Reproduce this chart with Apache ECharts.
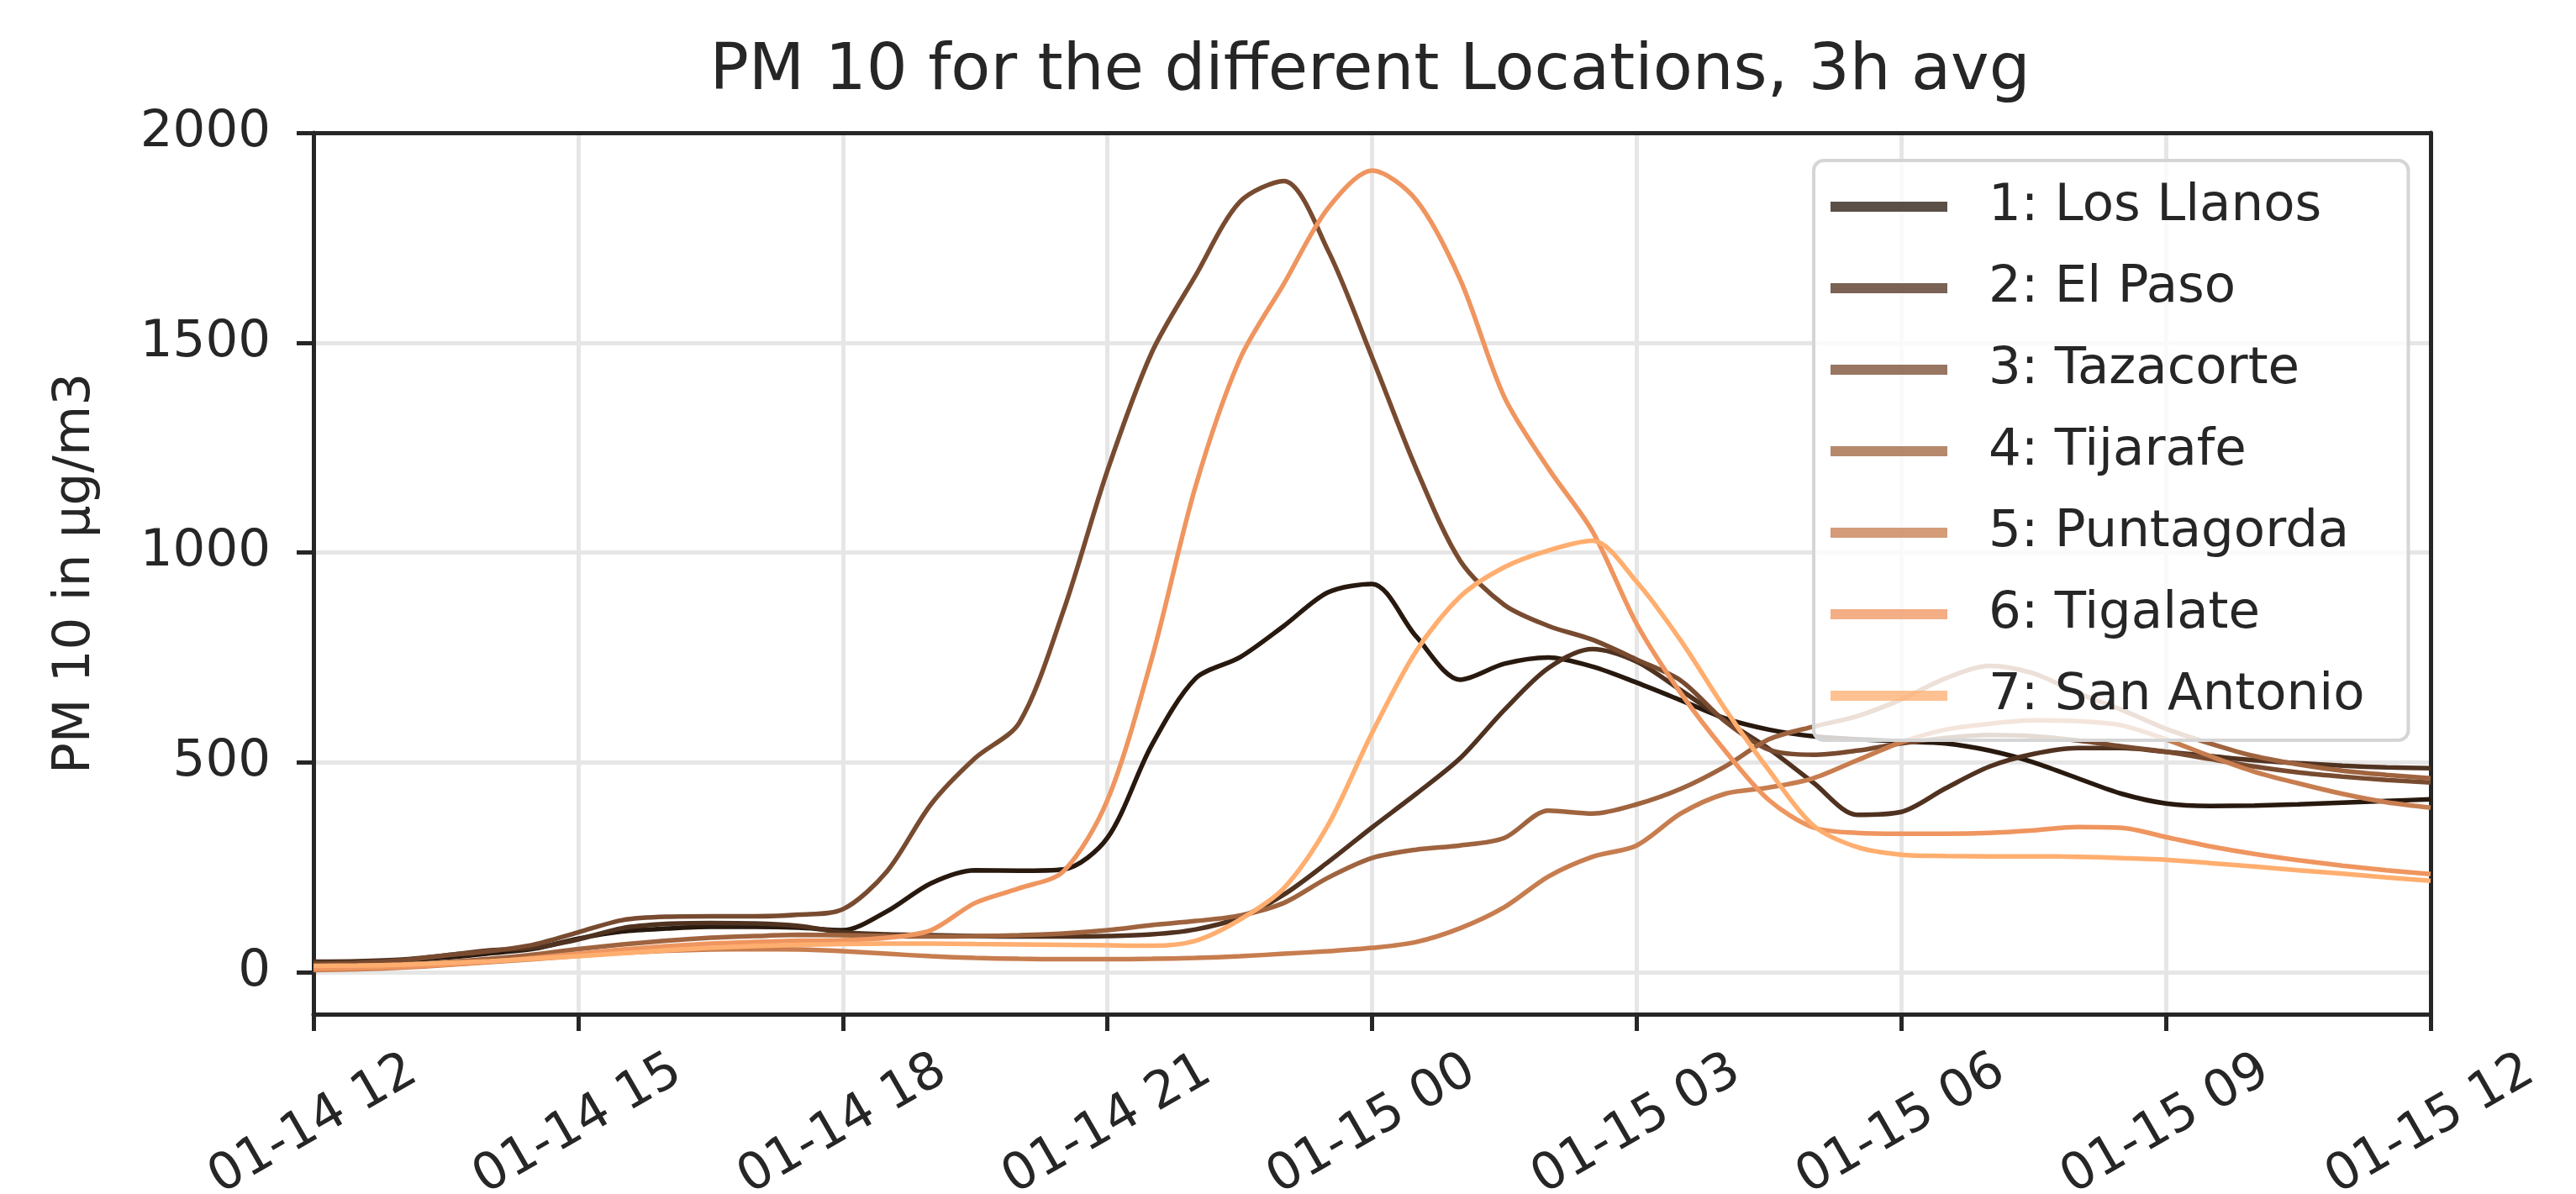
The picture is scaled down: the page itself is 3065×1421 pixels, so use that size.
<!DOCTYPE html>
<html>
<head>
<meta charset="utf-8">
<title>PM 10 for the different Locations, 3h avg</title>
<script src="https://cdn.jsdelivr.net/npm/echarts@6/dist/echarts.min.js"></script>
<style>
  html, body { margin: 0; padding: 0; background: #fff; }
  #chart { width: 3065px; height: 1421px; }
</style>
</head>
<body>
<div id="chart"></div>
<script>
// hours since 01-14 12:00
var hours = [0, 0.5, 1, 1.5, 2, 2.5, 3, 3.5, 4, 4.5, 5, 5.5, 6, 6.5, 7, 7.5, 8, 8.5,
  9, 9.5, 10, 10.5, 11, 11.5, 12, 12.5, 13, 13.5, 14, 14.5, 15, 15.5, 16, 16.5, 17, 17.5,
  18, 18.5, 19, 19.5, 20, 20.5, 21, 21.5, 22, 22.5, 23, 23.5, 24];

var tickLabels = ['01-14 12', '01-14 15', '01-14 18', '01-14 21', '01-15 00',
  '01-15 03', '01-15 06', '01-15 09', '01-15 12'];

var yTicks = [0, 500, 1000, 1500, 2000];

var locations = ['1: Los Llanos', '2: El Paso', '3: Tazacorte', '4: Tijarafe',
  '5: Puntagorda', '6: Tigalate', '7: San Antonio'];

// copper colormap
var colors = ['#28190f', '#503220', '#784b30', '#9f643f', '#c77d4f', '#ef955f', '#ffae6f'];

var losLlanos = [22, 24, 28, 35, 45, 56,
  80, 97, 104, 108, 108, 106,
  100, 145, 212, 243, 242, 245,
  320, 540, 700, 750, 825, 905,
  925, 800, 697, 735, 750, 728,
  690, 648, 605, 578, 562, 555,
  550, 545, 528, 500, 462, 425,
  402, 396, 397, 400, 404, 408,
  412];

var elPaso = [25, 26, 30, 40, 52, 58,
  78, 105, 115, 117, 116, 110,
  95, 90, 88, 86, 85, 85,
  86, 90, 102, 130, 185, 262,
  345, 425, 510, 625, 725, 770,
  740, 672, 600, 532, 452, 375,
  382, 438, 490, 520, 534, 534,
  525, 515, 505, 498, 492, 488,
  486];

var tazacorte = [20, 22, 28, 40, 50, 66,
  95, 124, 132, 133, 133, 137,
  150, 240, 400, 510, 594, 860,
  1195, 1475, 1660, 1835, 1885, 1720,
  1465, 1200, 980, 875, 825, 792,
  745, 695, 598, 530, 518, 528,
  545, 558, 565, 562, 552, 538,
  525, 508, 490, 476, 466, 458,
  452];

var tijarafe = [12, 14, 18, 24, 32, 42,
  55, 66, 75, 82, 86, 89,
  88, 86, 85, 86, 88, 92,
  100, 112, 122, 135, 165, 225,
  272, 292, 302, 320, 385, 378,
  400, 437, 490, 555, 585, 610,
  650, 700, 730, 712, 665, 625,
  580, 545, 515, 495, 480, 470,
  462];

var puntagorda = [5, 7, 11, 17, 24, 31,
  39, 46, 51, 54, 55, 54,
  50, 44, 38, 34, 32, 31,
  31, 32, 34, 38, 44, 50,
  58, 72, 105, 155, 228, 275,
  302, 378, 425, 440, 462, 505,
  548, 578, 592, 600, 598, 588,
  555, 515, 478, 450, 425, 405,
  392];

var tigalate = [8, 10, 13, 18, 25, 34,
  44, 54, 62, 68, 72, 75,
  76, 82, 100, 165, 200, 240,
  410, 745, 1158, 1460, 1640, 1820,
  1910, 1840, 1650, 1370, 1200, 1050,
  830, 665, 528, 410, 345, 332,
  330, 330, 332, 338, 346, 344,
  322, 300, 282, 267, 254, 243,
  234];

var sanAntonio = [15, 16, 18, 22, 26, 32,
  38, 45, 52, 58, 62, 65,
  67, 68, 68, 67, 66, 65,
  64, 63, 75, 125, 200, 350,
  570, 765, 895, 965, 1005, 1028,
  930, 790, 628, 481, 350, 298,
  280, 277, 276, 276, 275, 272,
  268, 260, 252, 243, 235, 226,
  218];

var values = [losLlanos, elPaso, tazacorte, tijarafe, puntagorda, tigalate, sanAntonio];

var FONT = 'DejaVu Sans';
var INK = '#262626';
var GRIDC = '#e6e6e6';

var series = values.map(function (vals, k) {
  return {
    name: locations[k],
    type: 'line',
    data: hours.map(function (h, i) { return [h, vals[i]]; }),
    color: colors[k],
    symbol: 'none',
    showSymbol: false,
    smooth: 0.3,
    lineStyle: { width: 5.5, color: colors[k] },
    emphasis: { disabled: true }
  };
});

// frame-only axes for top and right spines
var spine = {
  axisLine: { show: true, onZero: false, lineStyle: { color: INK, width: 5 } },
  axisTick: { show: false },
  axisLabel: { show: false },
  splitLine: { show: false }
};

var chart = echarts.init(document.getElementById('chart'));
chart.setOption({
  backgroundColor: '#ffffff',
  animation: false,
  title: {
    text: 'PM 10 for the different Locations, 3h avg',
    left: 1625,
    top: 42,
    textAlign: 'center',
    textStyle: { fontFamily: FONT, fontSize: 77, fontWeight: 'normal', color: INK }
  },
  grid: {
    left: 373, right: 173, top: 158, bottom: 214,
    show: false,
    outerBoundsMode: 'none'
  },
  legend: {
    data: locations,
    orient: 'vertical',
    left: 2158,
    top: 191,
    padding: [24, 52, 22, 20],
    itemGap: 35,
    itemWidth: 139,
    itemHeight: 12,
    icon: 'rect',
    itemStyle: { opacity: 0.76 },
    backgroundColor: 'rgba(255,255,255,0.8)',
    borderColor: '#d5d5d5',
    borderWidth: 4,
    borderRadius: 12,
    textStyle: { fontFamily: FONT, fontSize: 61, color: INK, lineHeight: 62, padding: [0, 0, 0, 44] }
  },
  xAxis: [{
    type: 'value',
    min: 0,
    max: 24,
    interval: 3,
    position: 'bottom',
    axisLine: { show: true, onZero: false, lineStyle: { color: INK, width: 5 } },
    axisTick: { show: true, inside: false, length: 20, lineStyle: { color: INK, width: 5 } },
    axisLabel: {
      rotate: 30,
      align: 'center',
      verticalAlign: 'middle',
      margin: 132,
      fontFamily: FONT,
      fontSize: 61,
      color: INK,
      formatter: function (v) { return tickLabels[Math.round(v / 3)]; }
    },
    splitLine: { show: true, lineStyle: { color: GRIDC, width: 5 } }
  }, Object.assign({ type: 'value', min: 0, max: 24, position: 'top' }, spine)],
  yAxis: [{
    type: 'value',
    min: -100,
    max: 2000,
    splitNumber: 4,
    position: 'left',
    name: 'PM 10 in \u03bcg/m3',
    nameLocation: 'middle',
    nameGap: 252,
    nameRotate: 90,
    nameTextStyle: { fontFamily: FONT, fontSize: 61, color: INK },
    axisLine: { show: true, onZero: false, lineStyle: { color: INK, width: 5 } },
    axisTick: { show: true, inside: false, length: 20, lineStyle: { color: INK, width: 5 },
      customValues: yTicks },
    axisLabel: {
      margin: 51,
      fontFamily: FONT,
      fontSize: 61,
      color: INK,
      customValues: yTicks,
      formatter: function (v) { return String(v); }
    },
    splitLine: { show: true, lineStyle: { color: GRIDC, width: 5 } }
  }, Object.assign({ type: 'value', min: -100, max: 2000, position: 'right' }, spine)],
  series: series
});
</script>
</body>
</html>
